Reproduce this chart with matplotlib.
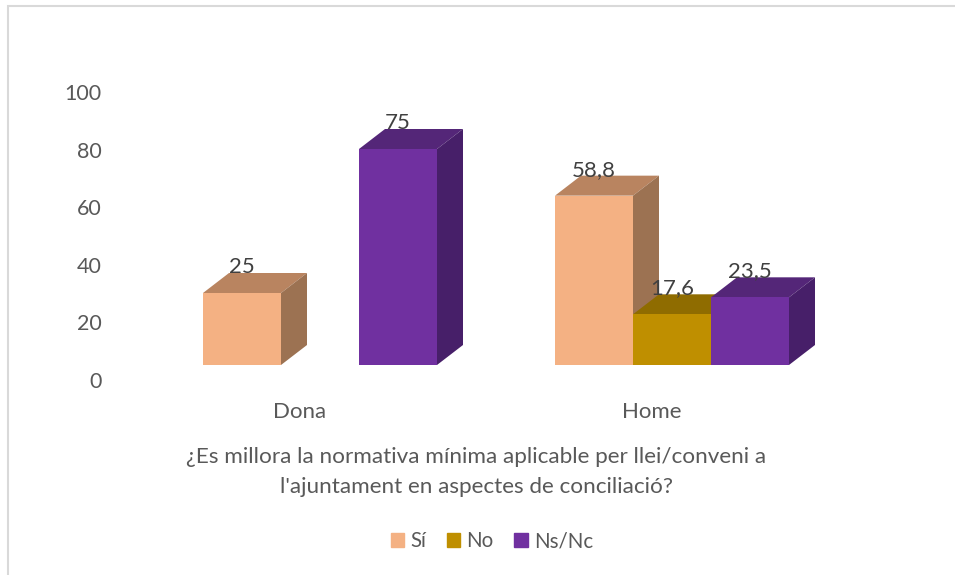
import matplotlib.pyplot as plt
from matplotlib.patches import Patch, Rectangle
from matplotlib.transforms import ScaledTranslation

plt.rcParams['font.family'] = ['Lato', 'DejaVu Sans']

categories = ["Dona", "Home"]
series = ["Sí", "No", "Ns/Nc"]
si = [25, 58.8]
no = [None, 17.6]
ns_nc = [75, 23.5]
labels_si = ["25", "58,8"]
labels_no = [None, "17,6"]
labels_ns = ["75", "23,5"]
y_ticks = [0, 20, 40, 60, 80, 100]

face = ["#F4B183", "#BF8F00", "#7030A0"]
top = ["#B98460", "#8F6C00", "#542678"]
side = ["#9C7252", "#7A5C00", "#471F69"]

W, H = 955, 575
PX_X = 1 / 352  # one group per 352 px
PX_Y = 1 / 2.88
bar_w = 78 * PX_X
dx = 26 * PX_X
dy = 20 * PX_Y

fig = plt.figure(figsize=(W / 100, H / 100), dpi=100)

# chart frame
fig.add_artist(Rectangle((7.5 / W, -0.01), 960 / W, 1 - 5.5 / H + 0.01, transform=fig.transFigure,
                         fill=False, edgecolor="#D9D9D9", linewidth=1.5))

# axes: left 110 px, 0 at y=365, 100 at y=77
ax = fig.add_axes([110 / W, (H - 365) / H, 780 / W, 288 / H])
ax.set_xlim((110 - 320) * PX_X, (890 - 320) * PX_X)
ax.set_ylim(0, 100)
for s in ax.spines.values():
    s.set_visible(False)
ax.patch.set_visible(False)

for i, vals, labs in zip(range(3), [si, no, ns_nc], [labels_si, labels_no, labels_ns]):
    for c, (v, lab) in enumerate(zip(vals, labs)):
        if v is None:
            continue
        x0 = c + (i - 1.5) * bar_w
        x1 = x0 + bar_w
        ax.fill([x0, x1, x1 + dx, x0 + dx], [v, v, v + dy, v + dy], color=top[i], lw=0, clip_on=False, zorder=2 + i)
        ax.fill([x1, x1 + dx, x1 + dx, x1], [0, dy, v + dy, v], color=side[i], lw=0, clip_on=False, zorder=2 + i)
        ax.bar(x0, v, bar_w, align="edge", color=face[i], lw=0, clip_on=False, zorder=2 + i)
        ax.annotate(lab, (x0 + bar_w / 2, v), xytext=(0, 26 * 0.72), textcoords="offset points",
                    ha="center", va="center", fontsize=16, color="#404040", zorder=10)

ax.set_yticks(y_ticks)
ax.set_xticks(range(len(categories)))
ax.set_xticklabels(categories)
ax.tick_params(axis="both", length=0, labelcolor="#595959")
ax.tick_params(axis="x", pad=26.5, labelsize=16)
ax.tick_params(axis="y", pad=6, labelsize=15.5)

shift_y = ScaledTranslation(0, -15 / 100, fig.dpi_scale_trans)
shift_x = ScaledTranslation(-20 / 100, 0, fig.dpi_scale_trans)
for t in ax.get_yticklabels():
    t.set_transform(t.get_transform() + shift_y)
for t in ax.get_xticklabels():
    t.set_transform(t.get_transform() + shift_x)

fig.text(476 / W, 1 - 472 / H, "¿Es millora la normativa mínima aplicable per llei/conveni a\nl'ajuntament en aspectes de conciliació?",
         ha="center", va="center", fontsize=16.2, color="#595959", linespacing=1.65)

handles = [Patch(color=c, label=n) for c, n in zip(face, series)]
fig.legend(handles=handles, loc="center", bbox_to_anchor=(492 / W, 1 - 541 / H), ncol=3, frameon=False,
           fontsize=14.8, labelcolor="#595959", handlelength=0.65, handleheight=0.65, handletextpad=0.3, columnspacing=1.0)

fig.savefig("out.png", dpi=100)
